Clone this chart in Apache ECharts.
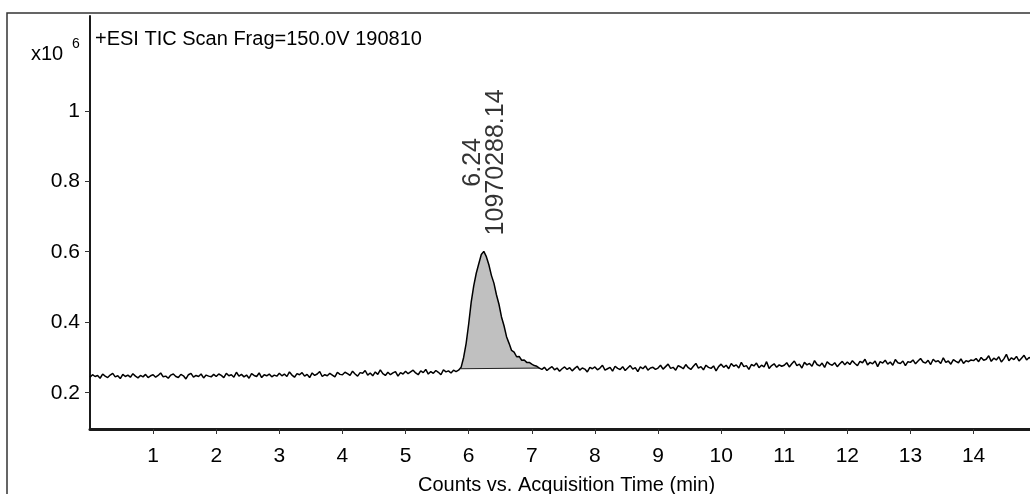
<!DOCTYPE html>
<html>
<head>
<meta charset="utf-8">
<script src="https://cdn.jsdelivr.net/npm/echarts@6/dist/echarts.min.js"></script>
<style>
html,body{margin:0;padding:0;background:#fff;}
#c{width:1030px;height:494px;}
</style>
</head>
<body>
<div id="c"></div>
<script>
// ---- data: TIC counts in thousands, sampled every 0.04 min starting at 0.00 min ----
const TIME_START = 0;
const TIME_STEP = 0.04;
const ticThousands = [
  // 0.00 - 0.96
  244,251,246,249,241,253,247,243,250,255,245,248,240,252,246,250,244,254,247,242,249,245,252,243,248,
  // 1.00 - 1.96
  251,244,249,256,245,247,241,250,253,246,243,252,248,239,251,255,244,249,246,253,242,250,247,245,252,
  // 2.00 - 2.96
  246,253,249,243,255,248,251,244,258,247,252,245,250,241,254,249,246,256,243,251,248,253,245,250,247,
  // 3.00 - 3.96
  255,248,253,246,259,250,244,254,251,257,247,252,243,256,249,253,260,246,251,248,255,250,245,258,252,
  // 4.00 - 4.96
  251,258,254,249,261,253,247,257,255,263,250,256,248,259,252,265,254,249,258,251,256,260,247,257,253,
  // 5.00 - 5.96
  261,254,259,264,256,251,262,257,266,253,260,255,263,258,251,265,259,262,256,264,260,264,272,300,340,
  // 6.00 - 6.96
  395,457,503,539,566,592,601,586,563,533,511,478,451,415,390,359,340,320,315,302,303,292,293,286,286,
  // 7.00 - 7.96
  281,277,275,270,266,272,263,269,274,265,270,261,268,273,266,271,262,269,275,264,270,267,259,272,268,
  // 8.00 - 8.96
  273,265,270,278,264,268,272,261,275,269,266,274,263,270,277,267,271,260,273,268,276,264,270,272,266,
  // 9.00 - 9.96
  270,278,267,274,281,269,272,264,277,273,268,280,271,266,275,283,270,274,265,278,272,269,276,262,274,
  // 10.00 - 10.96
  281,272,278,268,283,275,279,270,286,274,277,266,280,276,284,271,278,273,288,269,277,282,272,279,275,
  // 11.00 - 11.96
  278,285,273,282,290,277,281,270,286,279,283,275,291,280,276,284,272,288,281,278,285,274,282,289,279,
  // 12.00 - 12.96
  287,280,291,283,277,289,285,295,279,286,282,290,274,288,284,292,281,287,278,294,285,283,290,277,288,
  // 13.00 - 13.96
  286,293,282,290,297,287,284,292,280,295,288,291,283,299,286,290,281,294,289,285,296,283,291,288,293,
  // 14.00 - 14.96
  291,297,288,300,292,295,305,289,298,293,302,287,296,309,291,299,294,303,290,298,306,293,300,295,301,
  // 15.00 - 15.08
  298,304,300
];
const xTicks = [1,2,3,4,5,6,7,8,9,10,11,12,13,14];
const yTicks = [0.2,0.4,0.6,0.8,1];
const peakRT = 6.24;
const peakArea = '10970288.14';
const integStart = 5.87;
const integEnd = 7.12;
const integBase = [0.268, 0.270];
const titleText = '+ESI TIC Scan Frag=150.0V 190810';
const xName = 'Counts vs. Acquisition Time (min)';

// ---- build ----
const trace = ticThousands.map((v, i) => [+(TIME_START + i * TIME_STEP).toFixed(2), v / 1000]);
const peakFill = trace.filter(p => p[0] >= integStart - 1e-9 && p[0] <= integEnd + 1e-9);
const peakTop = trace.reduce((m, p) => (Math.abs(p[0] - peakRT) < 0.3 && p[1] > m ? p[1] : m), 0);

const FONT = '"Liberation Sans",Arial,sans-serif';

const chart = echarts.init(document.getElementById('c'), null, {renderer: 'canvas'});
chart.setOption({
  animation: false,
  backgroundColor: '#fff',
  grid: {left: 90, right: -13, top: 16, bottom: 65, containLabel: false, outerBoundsMode: 'none'},
  xAxis: {
    type: 'value', min: 0, max: 15.1,
    axisLine: {show: true, lineStyle: {color: '#1a1a1a', width: 3}},
    axisTick: {show: true, customValues: xTicks, length: 5, inside: false, lineStyle: {color: '#333', width: 1}},
    axisLabel: {customValues: xTicks, fontFamily: FONT, fontSize: 21, color: '#000', margin: 17},
    splitLine: {show: false},
    name: xName, nameLocation: 'middle', nameGap: 46,
    nameTextStyle: {fontFamily: FONT, fontSize: 20, color: '#000'}
  },
  yAxis: {
    type: 'value', min: 0.097, max: 1.269,
    axisLine: {show: true, lineStyle: {color: '#1a1a1a', width: 2}},
    axisTick: {show: true, customValues: yTicks, length: 5, lineStyle: {color: '#333', width: 1}},
    axisLabel: {customValues: yTicks, fontFamily: FONT, fontSize: 21, color: '#000', margin: 10,
      formatter: v => String(+v.toFixed(2))},
    splitLine: {show: false}
  },
  graphic: [
    {type: 'rect', z: 0, silent: true, shape: {x: 7, y: 13, width: 1200, height: 700},
     style: {fill: 'none', stroke: '#333', lineWidth: 1.5}},
    {type: 'text', left: 95, top: 29, style: {text: titleText, font: '20px ' + FONT, fill: '#000'}},
    {type: 'text', left: 31, top: 44, style: {text: 'x10', font: '20px ' + FONT, fill: '#000'}},
    {type: 'text', left: 72, top: 37, style: {text: '6', font: '14px ' + FONT, fill: '#000'}}
  ],
  series: [
    {
      name: 'integrated', type: 'line', data: peakFill, symbol: 'none', z: 1,
      lineStyle: {width: 0}, areaStyle: {color: '#c0c0c0', opacity: 1, origin: integBase[0]},
      silent: true
    },
    {
      name: 'baseline', type: 'line', symbol: 'none', z: 2,
      data: [[integStart, integBase[0]], [integEnd, integBase[1]]],
      lineStyle: {color: '#222', width: 1}, silent: true
    },
    {
      name: 'TIC', type: 'line', data: trace, symbol: 'none', z: 3,
      lineStyle: {color: '#000', width: 1.5}, silent: true
    },
    {
      name: 'label', type: 'scatter', data: [[peakRT, peakTop]], symbolSize: 0, z: 4,
      label: {
        show: true, position: 'inside', rotate: 90, offset: [89, 1],
        align: 'center', verticalAlign: 'middle',
        formatter: peakRT.toFixed(2) + '\n' + peakArea,
        fontFamily: FONT, fontSize: 25, lineHeight: 23, color: '#000'
      },
      silent: true
    }
  ]
});
</script>
</body>
</html>
